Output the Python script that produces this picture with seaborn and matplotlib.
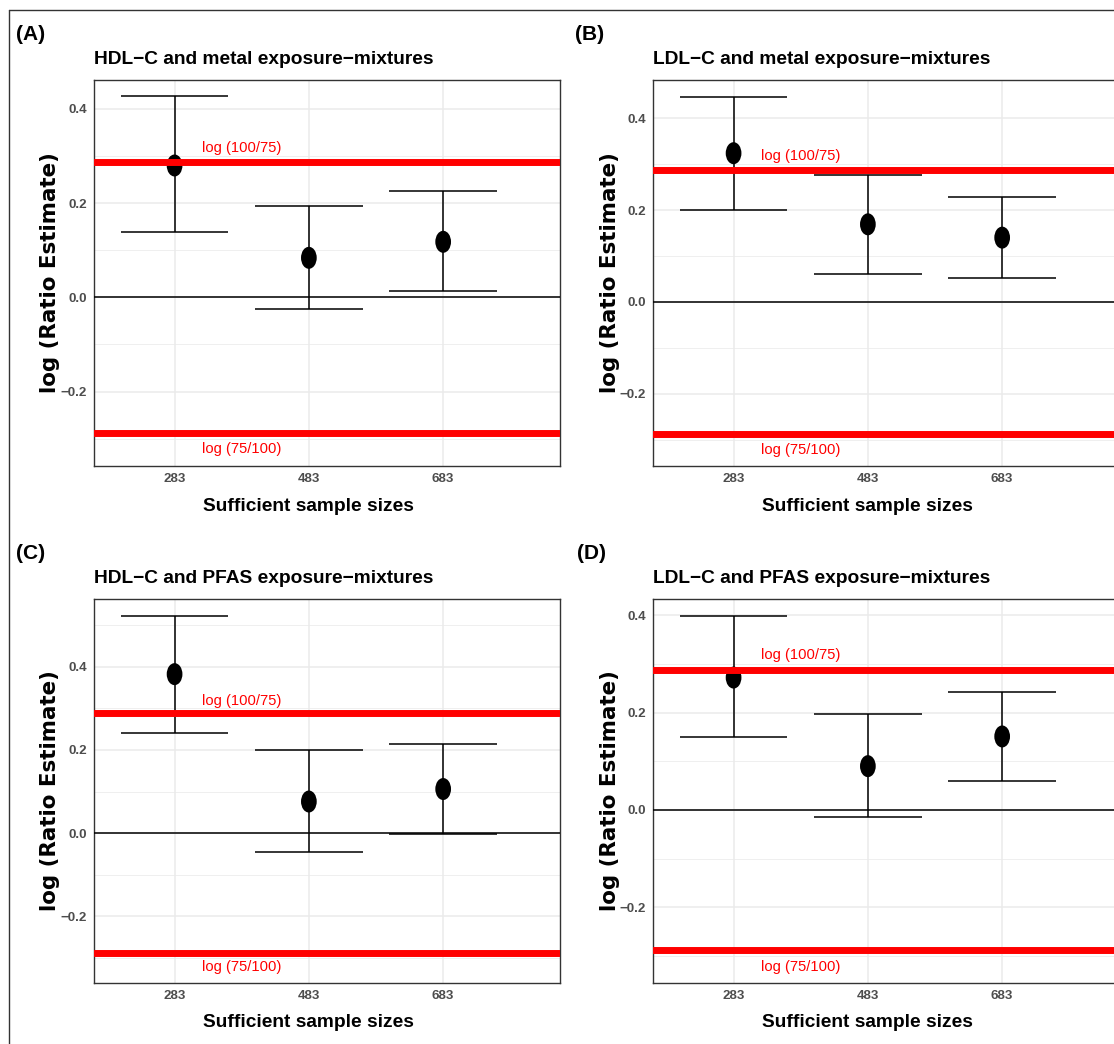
import numpy as np
import pandas as pd
import matplotlib
matplotlib.use("Agg")
import matplotlib.pyplot as plt
import seaborn as sns
from matplotlib.path import Path
from matplotlib.lines import Line2D
from matplotlib.ticker import FixedLocator, FuncFormatter
from matplotlib.transforms import blended_transform_factory

# ---------------- data ----------------
sizes = ["283", "483", "683"]

hdl_metal_est = [0.280, 0.084, 0.118]
hdl_metal_lo = [0.138, -0.025, 0.013]
hdl_metal_hi = [0.427, 0.194, 0.225]

ldl_metal_est = [0.324, 0.169, 0.140]
ldl_metal_lo = [0.200, 0.061, 0.053]
ldl_metal_hi = [0.447, 0.276, 0.229]

hdl_pfas_est = [0.382, 0.076, 0.106]
hdl_pfas_lo = [0.240, -0.046, -0.003]
hdl_pfas_hi = [0.522, 0.200, 0.215]

ldl_pfas_est = [0.272, 0.090, 0.151]
ldl_pfas_lo = [0.150, -0.015, 0.060]
ldl_pfas_hi = [0.399, 0.197, 0.242]

upper_bound = np.log(100 / 75)
lower_bound = np.log(75 / 100)
upper_label = "log (100/75)"
lower_label = "log (75/100)"

panel_labels = ["(A)", "(B)", "(C)", "(D)"]
titles = ["HDL\u2212C and metal exposure\u2212mixtures",
          "LDL\u2212C and metal exposure\u2212mixtures",
          "HDL\u2212C and PFAS exposure\u2212mixtures",
          "LDL\u2212C and PFAS exposure\u2212mixtures"]
xlabel = "Sufficient sample sizes"
ylabel = "log (Ratio Estimate)"

# ---------------- style ----------------
sns.set_theme(style="white")
NARROW = ['Liberation Sans Narrow', 'Liberation Sans', 'DejaVu Sans']
WIDE = ['DejaVu Sans']
plt.rcParams['font.family'] = NARROW
plt.rcParams['axes.unicode_minus'] = True

W, H = 1114, 1044
fig = plt.figure(figsize=(W / 100, H / 100), dpi=100)
fig.patch.set_facecolor("white")


def box(l, t, r, b):
    return [l / W, 1 - b / H, (r - l) / W, (b - t) / H]


# outer frame (only top and left edges are visible in the reference)
fig.add_artist(Line2D([9 / W, 1.0], [1 - 10 / H, 1 - 10 / H], transform=fig.transFigure,
                      color="#333333", lw=1.0))
fig.add_artist(Line2D([9 / W, 9 / W], [1 - 10 / H, 0.0], transform=fig.transFigure,
                      color="#333333", lw=1.0))

panels = [
    dict(est=hdl_metal_est, lo=hdl_metal_lo, hi=hdl_metal_hi,
         rect=box(94, 80, 560, 466), ylim=(-0.358, 0.4615), lab=(16, 25)),
    dict(est=ldl_metal_est, lo=ldl_metal_lo, hi=ldl_metal_hi,
         rect=box(653, 80, 1119, 466), ylim=(-0.3577, 0.4835), lab=(575, 25)),
    dict(est=hdl_pfas_est, lo=hdl_pfas_lo, hi=hdl_pfas_hi,
         rect=box(94, 599, 560, 983), ylim=(-0.360, 0.5625), lab=(16, 544)),
    dict(est=ldl_pfas_est, lo=ldl_pfas_lo, hi=ldl_pfas_hi,
         rect=box(653, 599, 1119, 983), ylim=(-0.3555, 0.4334), lab=(577, 544)),
]

circ = Path.unit_circle()
ellipse = Path(circ.vertices * np.array([0.714, 1.0]), circ.codes)

fmt = FuncFormatter(lambda v, p: f"{v:.1f}".replace("-", "\u2212"))

for i, p in enumerate(panels):
    ax = fig.add_axes(p["rect"])
    df = pd.DataFrame({"size": sizes, "est": p["est"], "lo": p["lo"], "hi": p["hi"]})
    xpos = np.arange(len(sizes))

    # error bars (stems and caps in data units)
    ax.vlines(xpos, df["lo"], df["hi"], color="black", lw=1.1, zorder=3)
    ax.hlines(df["hi"], xpos - 0.4, xpos + 0.4, color="black", lw=1.1, zorder=3)
    ax.hlines(df["lo"], xpos - 0.4, xpos + 0.4, color="black", lw=1.1, zorder=3)

    sns.scatterplot(data=df, x="size", y="est", marker=ellipse, s=251, color="black",
                    edgecolor="none", linewidth=0, ax=ax, zorder=4, legend=False)

    ax.axhline(0, color="black", lw=1.1, zorder=5)
    ax.axhline(upper_bound, color="#FF0000", lw=5.0, zorder=6)
    ax.axhline(lower_bound, color="#FF0000", lw=5.0, zorder=6)
    ax.text(0.5, upper_bound + 0.030, upper_label, color="#FF0000", ha="center",
            va="center", fontsize=10.6, zorder=7)
    ax.text(0.5, lower_bound - 0.035, lower_label, color="#FF0000", ha="center",
            va="center", fontsize=10.6, zorder=7)

    ax.set_xlim(-0.6, 2.87)
    ax.set_ylim(*p["ylim"])

    ax.yaxis.set_major_locator(FixedLocator([-0.2, 0.0, 0.2, 0.4]))
    ax.yaxis.set_minor_locator(FixedLocator([-0.3, -0.1, 0.1, 0.3, 0.5]))
    ax.yaxis.set_major_formatter(fmt)
    ax.set_xticks(xpos)
    ax.set_xticklabels(sizes)

    ax.grid(True, which="major", color="#EBEBEB", lw=1.1, zorder=0)
    ax.grid(True, which="minor", axis="y", color="#EBEBEB", lw=0.55, zorder=0)
    ax.set_axisbelow(True)

    for s in ax.spines.values():
        s.set_color("#333333")
        s.set_linewidth(1.0)
        s.set_visible(True)

    ax.tick_params(axis="both", which="major", length=2.8, width=0.8, color="#333333",
                   pad=2.2, labelsize=9.6, labelcolor="#4D4D4D")
    ax.tick_params(axis="y", which="minor", length=0)
    for t in ax.get_xticklabels() + ax.get_yticklabels():
        t.set_fontweight("bold")

    ax.set_title(titles[i], loc="left", pad=11.5, fontsize=13.8, fontweight="bold",
                 color="black")

    ax.set_xlabel(xlabel, fontsize=13.8, fontweight="bold", color="black", va="center")
    ax.xaxis.set_label_coords(1, -0.104,
                              transform=blended_transform_factory(ax.transData, ax.transAxes))
    ax.set_ylabel(ylabel, fontsize=15.4, fontweight="bold", color="black", va="center",
                  family=WIDE)
    ax.yaxis.set_label_coords(-43.5 / 466, 0.5)

    fig.text(p["lab"][0] / W, 1 - p["lab"][1] / H, panel_labels[i], fontsize=15,
             fontweight="bold", ha="left", va="top", color="black")

fig.savefig("out.png", dpi=100, facecolor="white")
